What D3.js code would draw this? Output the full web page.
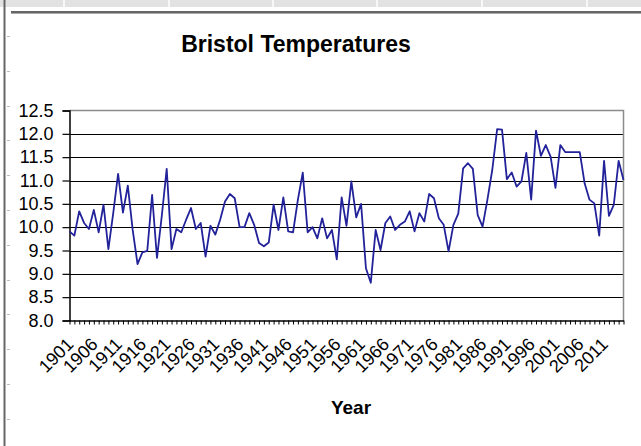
<!DOCTYPE html>
<html lang="en">
<head>
	<title>Bristol Temperatures</title>
	<script src="https://d3js.org/d3.v7.min.js" charset="utf-8"></script>
	<style>
		body { margin: 0; background: #fff; }
		text { font-family: "Liberation Sans", Arial, sans-serif; }
	</style>
</head>
<body>
	<script>
  // Annual mean temperature, 1901 - 2015
  var firstYear = 1901;
  var temps = [
    9.91, 9.82, 10.34, 10.09, 9.96, 10.37, 9.89, 10.48, 9.53, 10.3,
    11.14, 10.31, 10.89, 9.94, 9.21, 9.46, 9.49, 10.69, 9.34, 10.25,
    11.25, 9.53, 9.96, 9.89, 10.16, 10.41, 9.96, 10.09, 9.37, 10.03,
    9.84, 10.16, 10.55, 10.71, 10.62, 10.0, 10.0, 10.3, 10.05, 9.66,
    9.59, 9.67, 10.48, 9.94, 10.64, 9.91, 9.89, 10.59, 11.17, 9.89,
    10.0, 9.76, 10.19, 9.76, 9.94, 9.31, 10.64, 10.03, 10.98, 10.21,
    10.5, 9.12, 8.81, 9.94, 9.51, 10.09, 10.23, 9.94, 10.05, 10.12,
    10.34, 9.91, 10.3, 10.12, 10.71, 10.62, 10.19, 10.05, 9.48, 10.05,
    10.29, 11.26, 11.37, 11.25, 10.26, 10.01, 10.59, 11.23, 12.1, 12.09,
    11.03, 11.17, 10.87, 10.98, 11.59, 10.59, 12.07, 11.53, 11.76, 11.51,
    10.84, 11.76, 11.61, 11.61, 11.61, 11.61, 10.94, 10.59, 10.51, 9.82,
    11.42, 10.24, 10.48, 11.42, 11.01
  ];
  var years = temps.map(function(d, i) { return firstYear + i; });
  var yTicks = [8.0, 8.5, 9.0, 9.5, 10.0, 10.5, 11.0, 11.5, 12.0, 12.5];

  var width = 641;
  var height = 446;

  var svg = d3.select( "body" )
      .append( "svg" )
      .attr( "width", width )
      .attr( "height", height );

  // spreadsheet bits behind the chart
  svg.append( "rect" )
    .attr( "x", 0 ).attr( "y", 0 )
    .attr( "width", width ).attr( "height", 7 )
    .attr( "fill", "#e2e2e2" );
  [64, 169, 273, 377, 482, 587].forEach(function(cx) {
    svg.append( "line" )
      .attr( "x1", cx ).attr( "x2", cx )
      .attr( "y1", 0 ).attr( "y2", 7 )
      .attr( "stroke", "#fff" ).attr( "stroke-width", 1.5 );
  });
  svg.append( "line" )
    .attr( "x1", 11 ).attr( "x2", width )
    .attr( "y1", 12 ).attr( "y2", 12 )
    .attr( "stroke", "#333" ).attr( "stroke-width", 1.5 );
  svg.append( "line" )
    .attr( "x1", 11 ).attr( "x2", width )
    .attr( "y1", 13.5 ).attr( "y2", 13.5 )
    .attr( "stroke", "#aaa" ).attr( "stroke-width", 1 );
  svg.append( "line" )
    .attr( "x1", 4.5 ).attr( "x2", 4.5 )
    .attr( "y1", 0 ).attr( "y2", height )
    .attr( "stroke", "#666" ).attr( "stroke-width", 2 );
  d3.range(36, height, 34.8).forEach(function(ry) {
    svg.append( "line" )
      .attr( "x1", 7 ).attr( "x2", 10 )
      .attr( "y1", Math.round(ry) + 0.5 ).attr( "y2", Math.round(ry) + 0.5 )
      .attr( "stroke", "#bbb" );
  });

  // plot area
  var plotLeft = 69.5, plotRight = 623.5, plotTop = 110.5, plotBottom = 320.5;

  var x = d3.scalePoint()
    .domain( years )
    .range( [plotLeft, plotRight] );
  var y = d3.scaleLinear()
    .domain( [8, 12.5] )
    .range( [plotBottom, plotTop] );

  // gridlines
  svg.append( "g" )
    .selectAll( "line" )
    .data( yTicks.slice(1, -1) )
    .enter()
    .append( "line" )
    .attr( "x1", plotLeft ).attr( "x2", plotRight )
    .attr( "y1", function(d) { return Math.round(y(d)) + 0.5; } )
    .attr( "y2", function(d) { return Math.round(y(d)) + 0.5; } )
    .attr( "stroke", "#000" )
    .attr( "stroke-width", 1.2 );

  // gray border top and right
  svg.append( "path" )
    .attr( "d", "M" + plotLeft + "," + plotTop + "H" + plotRight + "V" + plotBottom )
    .attr( "fill", "none" )
    .attr( "stroke", "#8c8c8c" )
    .attr( "stroke-width", 1.5 );

  // y axis
  var yAxis = svg.append( "g" )
    .attr( "transform", "translate(" + plotLeft + ",0)" )
    .call( d3.axisLeft(y).tickValues(yTicks).tickFormat(d3.format(".1f")).tickSize(7).tickPadding(9) );
  yAxis.select( ".domain" ).attr( "stroke", "#000" ).attr( "stroke-width", 1.5 );
  yAxis.selectAll( ".tick line" ).attr( "stroke", "#000" ).attr( "stroke-width", 1.2 );
  yAxis.selectAll( "text" )
    .attr( "font-size", "18px" )
    .attr( "font-family", "Liberation Sans, Arial, sans-serif" )
    .attr( "fill", "#000" );

  // x axis
  var xAxis = svg.append( "g" )
    .attr( "transform", "translate(0," + plotBottom + ")" )
    .call( d3.axisBottom(x).tickSize(4).tickSizeOuter(0).tickFormat("") );
  xAxis.select( ".domain" ).attr( "stroke", "#000" ).attr( "stroke-width", 1.5 );
  xAxis.selectAll( ".tick line" ).attr( "stroke", "#000" ).attr( "stroke-width", 1 );

  var labelYears = years.filter(function(d) { return (d - firstYear) % 5 === 0; });
  svg.append( "g" )
    .selectAll( "text" )
    .data( labelYears )
    .enter()
    .append( "text" )
    .attr( "transform", function(d) { return "translate(" + (x(d) + 5) + "," + (plotBottom + 25) + ") rotate(-45)"; } )
    .attr( "text-anchor", "end" )
    .attr( "font-size", "18px" )
    .attr( "fill", "#000" )
    .text( function(d) { return d; } );

  // series line
  var line = d3.line()
    .x( function(d, i) { return x(years[i]); } )
    .y( function(d) { return y(d); } );
  svg.append( "path" )
    .datum( temps )
    .attr( "d", line )
    .attr( "fill", "none" )
    .attr( "stroke", "#22229a" )
    .attr( "stroke-width", 1.8 )
    .attr( "stroke-linejoin", "round" );

  // titles
  svg.append( "text" )
    .attr( "x", 296 ).attr( "y", 52 )
    .attr( "text-anchor", "middle" )
    .attr( "font-size", "23px" )
    .attr( "font-weight", "bold" )
    .attr( "fill", "#000" )
    .text( "Bristol Temperatures" );
  svg.append( "text" )
    .attr( "x", 351 ).attr( "y", 414 )
    .attr( "text-anchor", "middle" )
    .attr( "font-size", "19px" )
    .attr( "font-weight", "bold" )
    .attr( "fill", "#000" )
    .text( "Year" );
  </script>
</body>
</html>
